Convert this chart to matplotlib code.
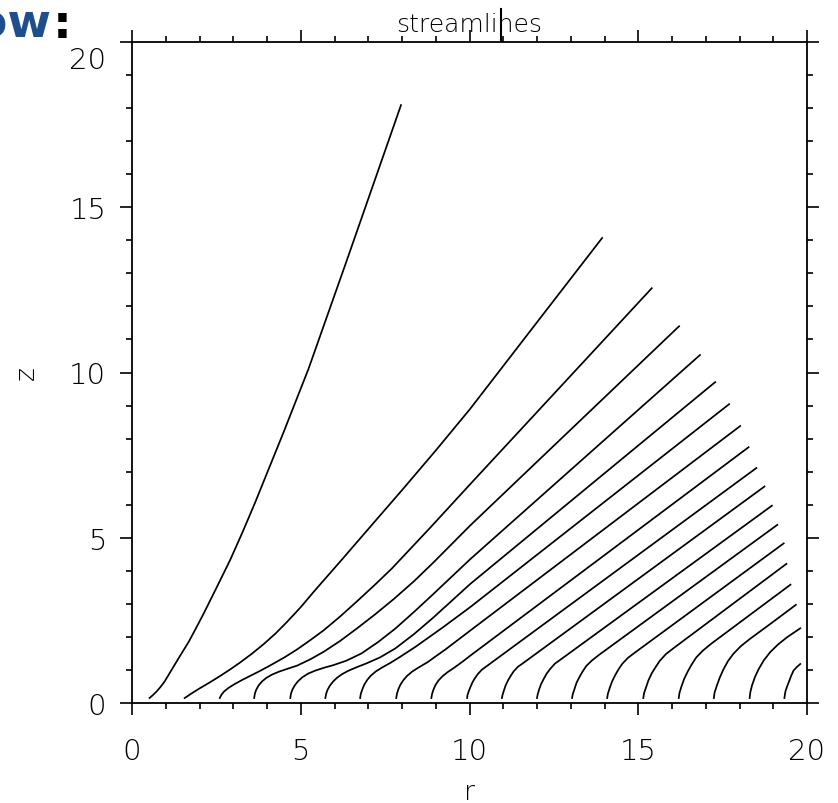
import numpy as np
import matplotlib.pyplot as plt
from matplotlib.ticker import MultipleLocator
from matplotlib.lines import Line2D
import matplotlib.transforms as mtransforms

plt.rcParams['font.weight'] = 'light'
plt.rcParams['axes.titleweight'] = 'light'
plt.rcParams['axes.labelweight'] = 'light'

# streamlines, (r, z) pairs, inner to outer
c1 = [(0.52, 0.15), (0.62, 0.24), (0.73, 0.35), (0.84, 0.48), (0.96, 0.64), (1.09, 0.86),
      (1.23, 1.10), (1.45, 1.47), (1.68, 1.85), (1.90, 2.27), (2.12, 2.70), (2.50, 3.48),
      (2.91, 4.33), (3.28, 5.18), (3.65, 6.07), (4.07, 7.13), (4.49, 8.19), (5.23, 10.11),
      (6.35, 13.35), (7.97, 18.09)]
c2 = [(1.56, 0.15), (1.75, 0.28), (2.00, 0.44), (2.30, 0.62), (2.60, 0.81), (2.90, 1.01),
      (3.21, 1.23), (3.55, 1.49), (3.90, 1.78), (4.25, 2.10), (4.59, 2.45), (5.00, 2.90),
      (5.38, 3.36), (5.80, 3.85), (6.22, 4.34), (7.10, 5.38), (8.00, 6.44), (9.00, 7.64),
      (10.02, 8.90), (12.00, 11.52), (13.93, 14.07)]
c3 = [(2.60, 0.15), (2.65, 0.25), (2.73, 0.35), (2.85, 0.45), (3.02, 0.56), (3.25, 0.69),
      (3.52, 0.83), (3.81, 0.98), (4.10, 1.14), (4.50, 1.37), (4.89, 1.62), (5.28, 1.90),
      (5.68, 2.20), (6.17, 2.62), (6.67, 3.08), (7.20, 3.58), (7.70, 4.07), (8.85, 5.32),
      (10.02, 6.62), (15.40, 12.55)]
c4 = [(3.62, 0.15), (3.64, 0.28), (3.68, 0.40), (3.75, 0.53), (3.85, 0.65), (3.98, 0.76),
      (4.15, 0.86), (4.36, 0.95), (4.62, 1.04), (4.89, 1.13), (5.28, 1.32), (5.68, 1.55),
      (6.17, 1.88), (6.67, 2.26), (7.20, 2.68), (7.75, 3.14), (8.35, 3.68), (8.92, 4.24),
      (10.02, 5.37), (16.21, 11.40)]
c5 = [(4.69, 0.15), (4.71, 0.28), (4.75, 0.40), (4.82, 0.53), (4.92, 0.66), (5.05, 0.78),
      (5.22, 0.89), (5.43, 0.98), (5.70, 1.07), (5.95, 1.14), (6.35, 1.28), (6.80, 1.50),
      (7.30, 1.85), (7.80, 2.25), (8.35, 2.75), (8.90, 3.27), (10.02, 4.35), (16.83, 10.53)]
c6 = [(5.73, 0.15), (5.75, 0.27), (5.79, 0.39), (5.86, 0.52), (5.95, 0.64), (6.07, 0.76),
      (6.22, 0.87), (6.40, 0.97), (6.65, 1.08), (6.95, 1.20), (7.35, 1.38), (7.80, 1.65),
      (8.35, 2.08), (8.90, 2.56), (9.45, 3.07), (10.02, 3.60), (17.28, 9.71)]
c7 = [(6.76, 0.15), (6.78, 0.28), (6.82, 0.40), (6.88, 0.55), (6.97, 0.70), (7.08, 0.83),
      (7.23, 0.96), (7.42, 1.08), (7.65, 1.21), (7.95, 1.40), (8.40, 1.70), (9.20, 2.28),
      (10.02, 2.90), (17.69, 9.04)]
c8 = [(7.83, 0.15), (7.85, 0.28), (7.89, 0.41), (7.95, 0.55), (8.04, 0.69), (8.15, 0.82),
      (8.30, 0.95), (8.50, 1.08), (8.75, 1.23), (9.30, 1.63), (10.02, 2.19), (18.02, 8.38)]
c9 = [(8.87, 0.15), (8.89, 0.27), (8.93, 0.40), (8.99, 0.54), (9.08, 0.68), (9.20, 0.81),
      (9.36, 0.94), (9.55, 1.07), (9.78, 1.24), (10.02, 1.43), (18.27, 7.74)]
c10 = [(9.93, 0.15), (9.94, 0.24), (9.98, 0.36), (10.03, 0.49), (10.09, 0.63), (10.16, 0.75),
       (10.25, 0.88), (10.37, 1.01), (10.53, 1.13), (18.50, 7.11)]
c11 = [(10.96, 0.15), (10.98, 0.25), (11.02, 0.38), (11.07, 0.53), (11.14, 0.68), (11.22, 0.82),
       (11.31, 0.96), (11.44, 1.10), (11.62, 1.23), (18.74, 6.55)]
c12 = [(12.00, 0.15), (12.02, 0.26), (12.06, 0.40), (12.12, 0.57), (12.20, 0.73), (12.28, 0.88),
       (12.39, 1.03), (12.53, 1.19), (12.72, 1.33), (18.96, 5.97)]
c13 = [(13.04, 0.15), (13.06, 0.27), (13.11, 0.42), (13.17, 0.61), (13.26, 0.79), (13.35, 0.95),
       (13.46, 1.12), (13.62, 1.28), (13.83, 1.45), (19.12, 5.39)]
c14 = [(14.08, 0.15), (14.10, 0.28), (14.15, 0.44), (14.22, 0.64), (14.31, 0.83), (14.41, 1.01),
       (14.53, 1.19), (14.70, 1.37), (14.92, 1.54), (19.31, 4.83)]
c15 = [(15.15, 0.15), (15.17, 0.29), (15.23, 0.47), (15.30, 0.68), (15.40, 0.90), (15.51, 1.08),
       (15.64, 1.28), (15.82, 1.48), (16.06, 1.67), (19.39, 4.21)]
c16 = [(16.20, 0.15), (16.22, 0.30), (16.28, 0.50), (16.36, 0.73), (16.47, 0.96), (16.58, 1.16),
       (16.72, 1.38), (16.92, 1.59), (17.17, 1.80), (19.51, 3.58)]
c17 = [(17.24, 0.15), (17.26, 0.31), (17.33, 0.53), (17.42, 0.78), (17.53, 1.03), (17.66, 1.27),
       (17.82, 1.49), (18.04, 1.72), (18.31, 1.94), (18.91, 2.39), (19.67, 2.97)]
c18 = [(18.30, 0.15), (18.32, 0.32), (18.37, 0.53), (18.46, 0.79), (18.57, 1.03), (18.72, 1.29),
       (18.91, 1.54), (19.14, 1.77), (19.41, 1.99), (19.80, 2.26)]
c19 = [(19.33, 0.15), (19.36, 0.35), (19.41, 0.50), (19.46, 0.63), (19.53, 0.82), (19.60, 0.98),
       (19.70, 1.09), (19.80, 1.18)]

curves = [c1, c2, c3, c4, c5, c6, c7, c8, c9, c10,
          c11, c12, c13, c14, c15, c16, c17, c18, c19]

fig = plt.figure(figsize=(8.38, 8.04), dpi=100)
ax = fig.add_axes([132/838, 1 - 704/804, 675/838, 661/804])

for c in curves:
    pts = np.array(c)
    ax.plot(pts[:, 0], pts[:, 1], color='black', lw=1.25)

ax.set_xlim(0, 20)
ax.set_ylim(0, 20)
ax.xaxis.set_major_locator(MultipleLocator(5))
ax.xaxis.set_minor_locator(MultipleLocator(1))
ax.yaxis.set_major_locator(MultipleLocator(5))
ax.yaxis.set_minor_locator(MultipleLocator(1))
ax.tick_params(which='both', direction='out', top=True, right=True, width=1.2)
ax.tick_params(which='major', length=8.5)
ax.tick_params(which='minor', length=4.3)
ax.tick_params(axis='x', which='major', labelsize=21, pad=16, labelcolor='black')
ax.tick_params(axis='y', which='major', labelsize=21, pad=10, labelcolor='black')
for s in ax.spines.values():
    s.set_linewidth(1.3)

# the top y label sits a bit lower in the original
for lab in ax.get_yticklabels():
    if lab.get_text() == '20':
        lab.set_transform(lab.get_transform() + mtransforms.ScaledTranslation(0, -0.15, fig.dpi_scale_trans))

ax.set_title('streamlines', fontsize=18, pad=8, color='black')
ax.set_xlabel('r', fontsize=19, labelpad=10, color='black')
ax.set_ylabel('z', fontsize=19, labelpad=22, color='black')

fig.add_artist(Line2D([501/838, 501/838], [1 - 10/804, 1 - 42/804], color='black', lw=1.5))
fig.text(51/838, 1 - 38/804, 'ow', ha='right', va='baseline', color='#1f4e8c',
         fontsize=34, fontweight='bold')
fig.text(53/838, 1 - 38/804, ':', ha='left', va='baseline', color='black',
         fontsize=34, fontweight='bold')

fig.savefig('out.png', dpi=100)
